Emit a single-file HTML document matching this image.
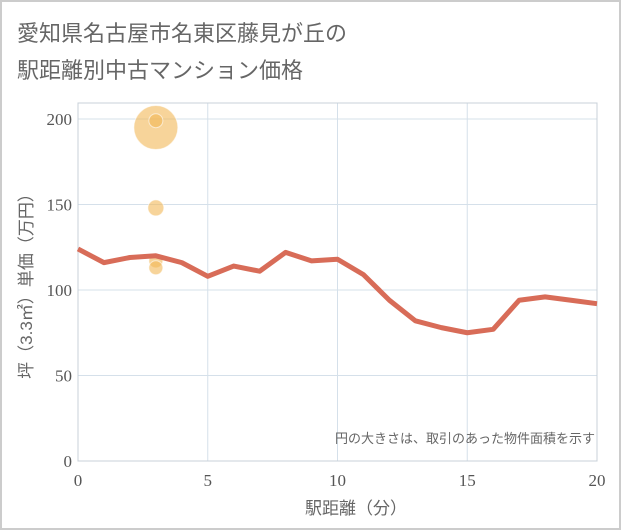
<!DOCTYPE html>
<html><head><meta charset="utf-8"><style>
body{margin:0;background:#fff}
svg{display:block}
.t{font-family:"Liberation Sans","Noto Sans CJK JP",sans-serif;fill:#666}
.n{font-family:"Liberation Serif","Noto Serif CJK SC",serif;fill:#555;font-size:17px}
</style></head><body>
<svg id="c" width="621" height="530">
<rect x="1" y="1" width="619" height="528" fill="#fff" stroke="#ccc" stroke-width="2"/>
<text class="t" x="17" y="41" font-size="22">愛知県名古屋市名東区藤見が丘の</text>
<text class="t" x="17" y="78" font-size="22">駅距離別中古マンション価格</text>
<g id="grid"></g>
<rect x="78" y="103" width="519" height="358" fill="none" stroke="#c8d0d8"/>
<g id="marks"></g>
<text class="t" x="595" y="443" font-size="13" text-anchor="end">円の大きさは、取引のあった物件面積を示す</text>
<text class="t" x="356" y="514" font-size="17" text-anchor="middle">駅距離（分）</text>
<text class="t" transform="translate(32,282) rotate(-90)" font-size="17" text-anchor="middle">坪（3.3㎡）単価（万円）</text>
</svg>
<script>
const xTicks=[0,5,10,15,20];
const yTicks=[0,50,100,150,200];
const lineX=[0,1,2,3,4,5,6,7,8,9,10,11,12,13,14,15,16,17,18,19,20];
const lineY=[124,116,119,120,116,108,114,111,122,117,118,109,94,82,78,75,77,94,96,94,92];
const bubX=[3,3,3,3,3];
const bubY=[195,199,148,117,113];
const bubR=[22,7,8,7,7];
const NS="http://www.w3.org/2000/svg";
const sx=v=>78+v*519/20, sy=v=>461-v*342/200;
const grid=document.getElementById('grid'), marks=document.getElementById('marks'), svg=document.getElementById('c');
function mk(tag,at,par){const e=document.createElementNS(NS,tag);for(const k in at)e.setAttribute(k,at[k]);par.appendChild(e);return e;}
xTicks.forEach(v=>{
 const l=mk('line',{x1:sx(v),x2:sx(v),y1:103,y2:461,stroke:'#d5e0ea'},grid);
 
 
 const t=mk('text',{x:sx(v),y:486,'text-anchor':'middle',class:'n'},svg);t.textContent=v;
 
 
});
yTicks.forEach(v=>{
 const l=mk('line',{x1:78,x2:597,y1:sy(v),y2:sy(v),stroke:'#d5e0ea'},grid);
 
 
 const t=mk('text',{x:72,y:sy(v)+6,'text-anchor':'end',class:'n'},svg);t.textContent=v;
 
 
});
bubX.forEach((x,i)=>{
 const c=mk('circle',{cx:sx(x),cy:sy(bubY[i]),r:bubR[i],fill:'#f2b857','fill-opacity':0.6,stroke:'#fff','stroke-opacity':0.6},marks);
 
 
});
const p=mk('polyline',{points:lineX.map((x,i)=>sx(x)+','+sy(lineY[i])).join(' '),fill:'none',stroke:'#d86c58','stroke-width':5,'stroke-linejoin':'round'},marks);


</script>
</body></html>
